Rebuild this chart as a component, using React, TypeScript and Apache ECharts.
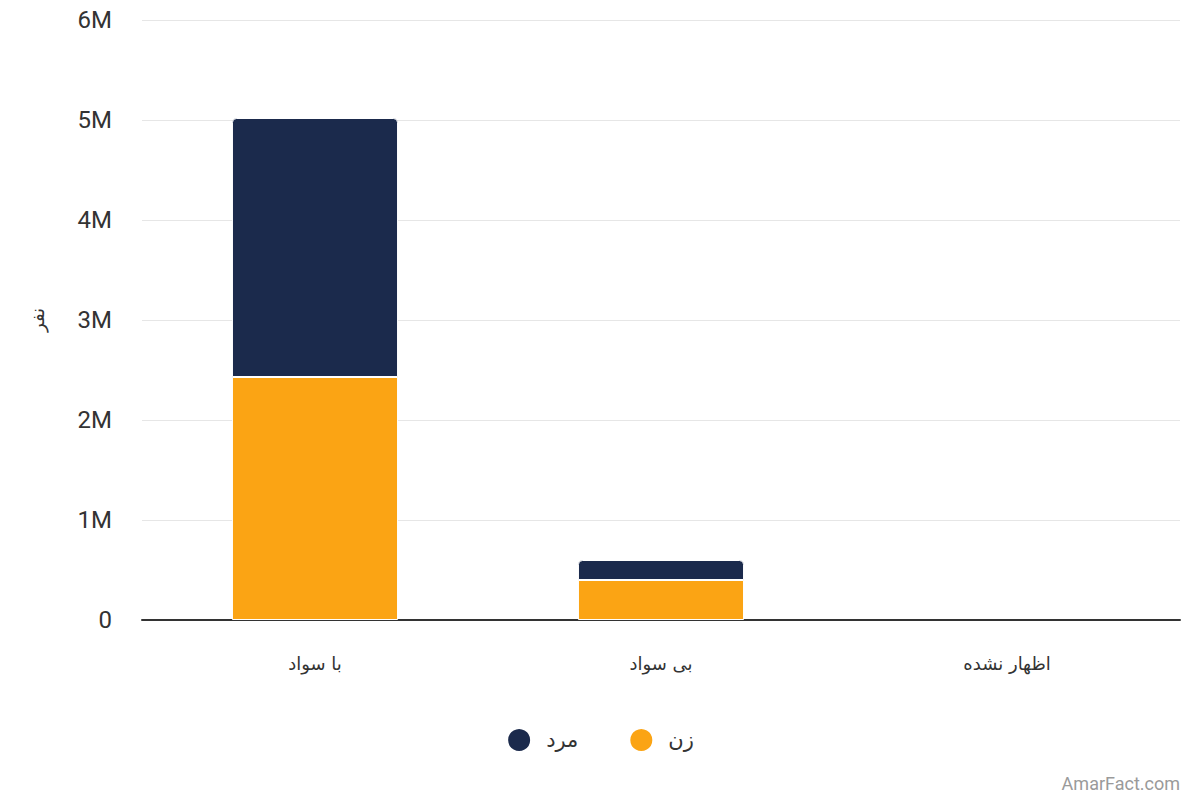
import React, { useEffect, useRef } from "react";
import * as echarts from "echarts";

const categories = ["با سواد", "بی سواد", "اظهار نشده"];
const femaleValues = [2430000, 400000, 0];
const maleValues = [2590000, 200000, 0];
const yTicks = [0, 1000000, 2000000, 3000000, 4000000, 5000000, 6000000];

const NAVY = "#1b2a4c";
const ORANGE = "#fba414";

const toBarData = (arr: number[]) => arr.map((v) => (v === 0 ? null : v));

export default function App() {
  const ref = useRef<HTMLDivElement>(null);
  useEffect(() => {
    if (!ref.current) return;
    const chart = echarts.init(ref.current, undefined, { renderer: "svg" });
    chart.setOption({
      animation: false,
      textStyle: { fontFamily: "Roboto, 'Noto Sans', sans-serif" },
      grid: { left: 142, right: 20, top: 20, bottom: 180, containLabel: false },
      legend: {
        data: ["مرد", "زن"],
        bottom: 42,
        left: "center",
        icon: "circle",
        itemWidth: 24,
        itemHeight: 24,
        itemGap: 50,
        textStyle: {
          fontSize: 21,
          color: "#333",
          padding: [0, 0, 0, 10],
          fontFamily: "'DejaVu Sans', 'Noto Sans', sans-serif",
        },
      },
      graphic: [
        {
          type: "text",
          right: 20,
          bottom: 8,
          style: { text: "AmarFact.com", fill: "#9a9a9a", fontSize: 18, fontFamily: "Roboto, sans-serif" },
        },
      ],
      xAxis: {
        type: "category",
        data: categories,
        axisLine: { lineStyle: { color: "#333", width: 2 } },
        axisTick: { show: false },
        axisLabel: {
          margin: 34,
          fontSize: 18,
          color: "#333",
          fontFamily: "'DejaVu Sans', 'Noto Sans', sans-serif",
        },
      },
      yAxis: {
        type: "value",
        min: yTicks[0],
        max: yTicks[yTicks.length - 1],
        interval: 1000000,
        name: "نفر",
        nameLocation: "middle",
        nameGap: 96,
        nameTextStyle: { fontSize: 18, color: "#333", fontFamily: "'DejaVu Sans', sans-serif" },
        axisLine: { show: false },
        axisTick: { show: false },
        splitLine: { lineStyle: { color: "#e6e6e6", width: 1 } },
        axisLabel: {
          margin: 30,
          fontSize: 24,
          color: "#333",
          formatter: (v: number) => (v === 0 ? "0" : v / 1000000 + "M"),
        },
      },
      series: [
        {
          name: "زن",
          type: "bar",
          stack: "total",
          data: toBarData(femaleValues),
          barWidth: "48%",
          itemStyle: { color: ORANGE, borderColor: "#fff", borderWidth: 1 },
        },
        {
          name: "مرد",
          type: "bar",
          stack: "total",
          data: toBarData(maleValues),
          barWidth: "48%",
          itemStyle: { color: NAVY, borderColor: "#fff", borderWidth: 1, borderRadius: [4, 4, 0, 0] },
        },
      ],
    });
    return () => chart.dispose();
  }, []);
  return (
    <div
      ref={ref}
      style={{ position: "fixed", left: 0, top: 0, width: 1200, height: 800, background: "#fff" }}
    />
  );
}
